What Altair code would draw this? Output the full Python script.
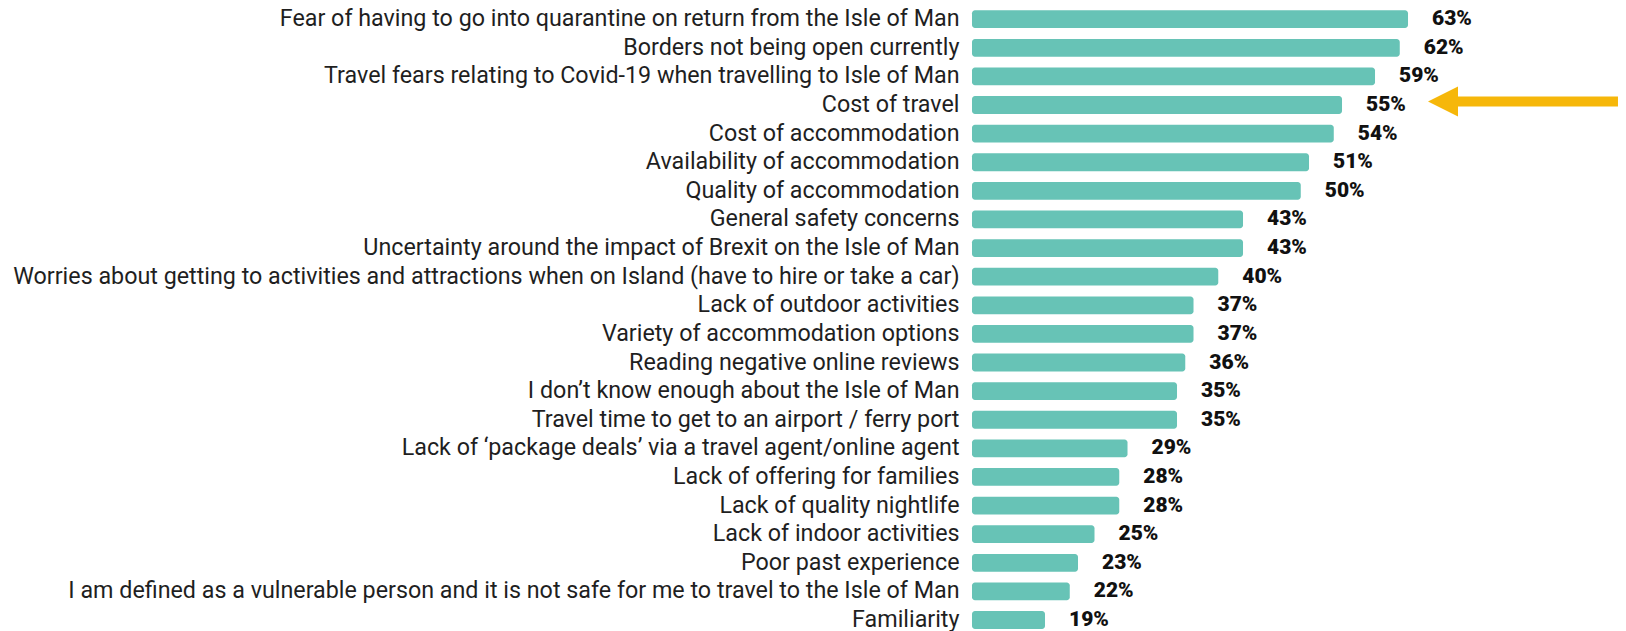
import altair as alt
import pandas as pd

labels = [
    "Fear of having to go into quarantine on return from the Isle of Man",
    "Borders not being open currently",
    "Travel fears relating to Covid-19 when travelling to Isle of Man",
    "Cost of travel",
    "Cost of accommodation",
    "Availability of accommodation",
    "Quality of accommodation",
    "General safety concerns",
    "Uncertainty around the impact of Brexit on the Isle of Man",
    "Worries about getting to activities and attractions when on Island (have to hire or take a car)",
    "Lack of outdoor activities",
    "Variety of accommodation options",
    "Reading negative online reviews",
    "I don\u2019t know enough about the Isle of Man",
    "Travel time to get to an airport / ferry port",
    "Lack of \u2018package deals\u2019 via a travel agent/online agent",
    "Lack of offering for families",
    "Lack of quality nightlife",
    "Lack of indoor activities",
    "Poor past experience",
    "I am defined as a vulnerable person and it is not safe for me to travel to the Isle of Man",
    "Familiarity",
]
values = [63, 62, 59, 55, 54, 51, 50, 43, 43, 40, 37, 37, 36, 35, 35, 29, 28, 28, 25, 23, 22, 19]
value_text = [f"{v}%" for v in values]

highlight_label = ["Cost of travel"]
arrow_tail = [88.45]
arrow_neck = [69.0]
arrow_head = [67.24]

BASE = 10.15
XMAX = 88.45

df = pd.DataFrame({"label": labels, "value": values, "text": value_text})
arrow_df = pd.DataFrame({"label": highlight_label, "tail": arrow_tail,
                         "neck": arrow_neck, "head": arrow_head})

y_enc = alt.Y(
    "label:N",
    scale=alt.Scale(domain=labels, paddingInner=0.378, paddingOuter=0.08),
    axis=alt.Axis(title=None, domain=False, ticks=False, labelFont="Roboto",
                  labelFontSize=23.3, labelColor="#1f1f1f", labelPadding=13,
                  labelLimit=0),
)
x_scale = alt.Scale(domain=[BASE, XMAX], zero=False, nice=False)

bars = alt.Chart(df).mark_bar(color="#67C3B6", cornerRadius=3).encode(
    x=alt.X("value:Q", scale=x_scale, axis=None),
    x2=alt.datum(BASE),
    y=y_enc,
)

texts = alt.Chart(df).mark_text(
    align="left", baseline="middle", dx=24, font="Roboto", fontSize=21,
    fontWeight=900, color="#111111"
).encode(
    x=alt.X("value:Q", scale=x_scale, axis=None),
    y=y_enc,
    text="text:N",
)

shaft = alt.Chart(arrow_df).mark_rule(color="#F6B70A", strokeWidth=10, yOffset=-3.5).encode(
    x=alt.X("neck:Q", scale=x_scale, axis=None),
    x2="tail:Q",
    y=y_enc,
)

head = alt.Chart(arrow_df).mark_point(
    shape="M1,-1L-1,0L1,1Z", size=900, filled=True, color="#F6B70A",
    opacity=1, strokeWidth=0, yOffset=-3.5
).encode(
    x=alt.X("head:Q", scale=x_scale, axis=None),
    y=y_enc,
)

chart = alt.layer(bars, texts, shaft, head).properties(
    width=646,
    height=623.2,
    padding={"left": 964, "top": 0, "right": 0, "bottom": 0},
    autosize=alt.AutoSizeParams(type="none"),
).configure_view(stroke="transparent")

chart.save("out.html", embed_options={"renderer": "svg", "actions": False})
